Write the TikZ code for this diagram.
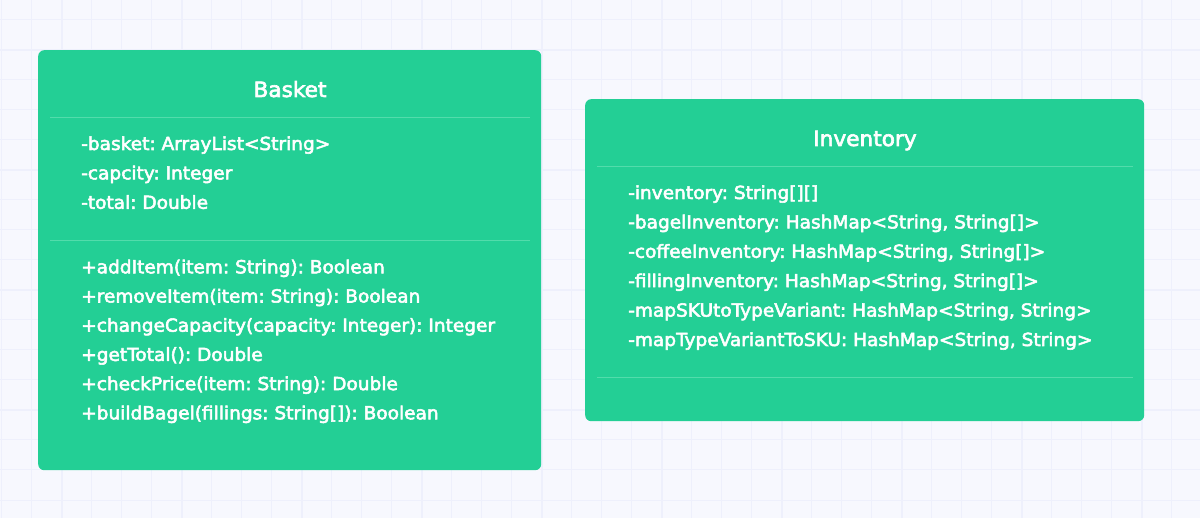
\documentclass[tikz,border=0pt]{standalone}
\usepackage{fontspec}
\setmainfont{DejaVu Sans}[FakeBold=3, FakeStretch=1.03]
\frenchspacing
\definecolor{canvas}{RGB}{247,248,254}
\definecolor{gridline}{RGB}{238,240,252}
\definecolor{classfill}{RGB}{35,207,149}
\definecolor{rule}{RGB}{82,220,171}
\tikzset{
  minorgrid/.style={draw=gridline, line width=1pt},
  majorgrid/.style={draw=gridline, line width=2.2pt},
  classbox/.style={fill=classfill, rounded corners=6pt, inner sep=0pt, anchor=north west},
  classtitle/.style={text=white, inner sep=0pt, anchor=base, font=\fontsize{21}{26}\selectfont},
  member/.style={text=white, inner sep=0pt, anchor=base west, font=\fontsize{18}{22}\selectfont},
  divider/.style={draw=rule, line width=1pt}
}
\begin{document}
\begin{tikzpicture}[x=1pt, y=-1pt]
  % canvas and grid
  \useasboundingbox (0,0) rectangle (1200,518);
  \fill[canvas] (0,0) rectangle (1200,518);
  \foreach \x in {1.7,31.7,...,1200} \draw[minorgrid] (\x,0) -- (\x,518);
  \foreach \y in {-10,20,...,518} \draw[minorgrid] (0,\y) -- (1200,\y);
  \foreach \x in {61.7,181.7,...,1200} \draw[majorgrid] (\x,0) -- (\x,518);
  \foreach \y in {50,170,...,518} \draw[majorgrid] (0,\y) -- (1200,\y);

  % Basket class
  \node[classbox, minimum width=503pt, minimum height=420pt] (basket) at (38,50) {};
  \node[classtitle] (basketname) at (290,97) {Basket};
  \coordinate (bs1l) at (50,118);  \coordinate (bs1r) at (530,118);
  \coordinate (bs2l) at (50,241);  \coordinate (bs2r) at (530,241);
  \draw[divider] (bs1l) -- (bs1r);
  \draw[divider] (bs2l) -- (bs2r);
  \foreach \t [count=\i from 0] in {{-basket: ArrayList<String>},{-capcity: Integer},{-total: Double}}
    \node[member] (battr\i) at (81,150+29.4*\i) {\t};
  \foreach \t [count=\i from 0] in {{+addItem(item: String): Boolean},{+removeItem(item: String): Boolean},{+changeCapacity(capacity: Integer): Integer},{+getTotal(): Double},{+checkPrice(item: String): Double},{+buildBagel(fillings: String[]): Boolean}}
    \node[member] (bop\i) at (81,273.3+29.2*\i) {\t};

  % Inventory class
  \node[classbox, minimum width=559pt, minimum height=322pt] (inventory) at (585,99) {};
  \node[classtitle] (inventoryname) at (865,146) {Inventory};
  \coordinate (is1l) at (597,167);  \coordinate (is1r) at (1133,167);
  \coordinate (is2l) at (597,378);  \coordinate (is2r) at (1133,378);
  \draw[divider] (is1l) -- (is1r);
  \draw[divider] (is2l) -- (is2r);
  \foreach \t [count=\i from 0] in {{-inventory: String[][]},{-bagelInventory: HashMap<String, String[]>},{-coffeeInventory: HashMap<String, String[]>},{-fillingInventory: HashMap<String, String[]>},{-mapSKUtoTypeVariant: HashMap<String, String>},{-mapTypeVariantToSKU: HashMap<String, String>}}
    \node[member] (iattr\i) at (628,199+29.4*\i) {\t};
\end{tikzpicture}
\end{document}
